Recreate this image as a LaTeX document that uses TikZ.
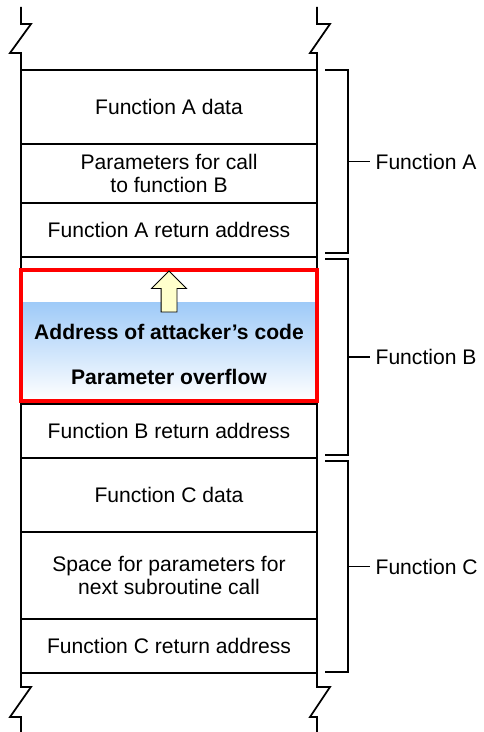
\documentclass[tikz,border=0pt]{standalone}
\usepackage{fontspec}
\setmainfont{Liberation Sans}
\usetikzlibrary{shapes.arrows}
\definecolor{overflowblue}{RGB}{158,202,248}
\definecolor{arrowyellow}{RGB}{255,255,204}
\begin{document}
\begin{tikzpicture}
	\tikzstyle{slot} = [draw, line width=1pt, minimum width=5.92cm, inner sep=0pt, align=center, font=\fontsize{12}{13.5}\selectfont]
	\tikzstyle{hot} = [inner sep=0pt, font=\fontsize{12}{13.5}\selectfont\bfseries]
	\tikzstyle{fname} = [anchor=west, inner sep=3pt, font=\fontsize{12}{13.5}\selectfont]
	\tikzstyle{wall} = [line width=1pt]
	\tikzstyle{brace} = [line width=1pt]
	\tikzstyle{smashbox} = [draw=red, line width=0.08cm, minimum width=5.92cm, minimum height=2.61cm, inner sep=0pt]
	\tikzstyle{uparrow} = [single arrow, draw, line width=0.5pt, fill=arrowyellow, rotate=90, minimum height=0.82cm, inner xsep=0pt, inner ysep=0.15cm, single arrow head extend=0.19cm]
\def\mid{3.38}
\def\lwall{0.42}
\def\rwall{6.34}

\useasboundingbox (0,0) rectangle (9.66,-14.64);

%overwritten part of function B
\shade[top color=overflowblue, bottom color=white] (\lwall,-6.04) rectangle (\rwall,-8.0);

%stack slots
\foreach \name/\y/\h/\txt in {adata/-2.14/1.48/{Function A data}, aparam/-3.47/1.18/{Parameters for call\\to function B}, aret/-4.60/1.08/{Function A return address}, bbuf/-6.61/2.94/{}, bret/-8.62/1.08/{Function B return address}, cdata/-9.90/1.48/{Function C data}, cparam/-11.51/1.74/{Space for parameters for\\next subroutine call}, cret/-12.92/1.08/{Function C return address}}
  	\node[slot, minimum height=\h cm] (\name) at (\mid, \y) {\txt};

%walls with breaks
\foreach \x/\a/\b in {0.42/0.62/0.20, 6.34/6.60/6.20} {
	\draw[wall] (\x,-0.14) -- (\x,-0.48) -- (\a,-0.48) -- (\b,-1.06) -- (\x,-1.06) -- (\x,-13.74) -- (\a,-13.74) -- (\b,-14.34) -- (\x,-14.34) -- (\x,-14.64);
}

%overflow
\node[smashbox] (smash) at (\mid,-6.705) {};
\node[uparrow] (climb) at (\mid,-5.91) {};
\node[hot] (attaddr) at (\mid,-6.64) {Address of attacker’s code};
\node[hot] (ovf) at (\mid,-7.54) {Parameter overflow};

%frames
\foreach \name/\top/\bot/\txt in {funcA/-1.40/-5.06/Function A, funcB/-5.18/-9.10/Function B, funcC/-9.22/-13.44/Function C} {
	\node[fname] (\name) at (7.40, {(\top+\bot)/2}) {\txt};
	\draw[brace] (6.5,\top) -| (6.96,\bot) -- (6.5,\bot);
	\draw[brace] (6.96,{(\top+\bot)/2}) -- (\name.west);
}
\end{tikzpicture}
\end{document}
